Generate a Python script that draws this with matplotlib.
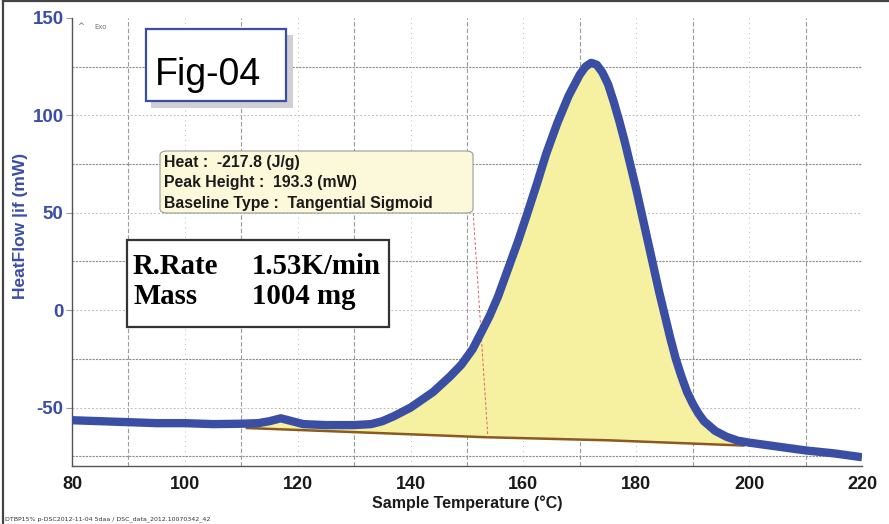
import numpy as np
import matplotlib
matplotlib.use("Agg")
import matplotlib.pyplot as plt
from matplotlib.patches import Rectangle, FancyBboxPatch
from matplotlib.lines import Line2D

plt.rcParams["axes.unicode_minus"] = False

# DSC trace
temp = [80, 85, 90, 95, 100, 105, 110, 113, 115, 117, 119, 121, 125, 130, 133,
        135, 137, 139, 140, 142, 144, 147, 149, 151, 152.6, 154, 155.5, 157,
        159, 160.5, 162.4, 164, 166, 168, 170, 171, 172, 173, 174, 175, 176,
        177, 178, 179, 180, 181, 182, 183, 184, 185, 186, 187, 188, 189, 190,
        191, 192, 194, 196, 198, 200, 205, 210, 215, 220]
heat_flow = [-56.5, -57, -57.5, -58, -58, -58.5, -58.3, -58, -57, -55.5, -57,
             -58.5, -59, -59, -58.5, -57, -54.5, -51.5, -50, -46, -42, -34,
             -28, -20, -11, -3, 7, 19, 35, 48, 65, 80, 96, 110, 121, 125, 127,
             126, 122, 116, 107, 97, 86, 74, 62, 49, 36, 23, 10, -2, -14, -25,
             -34, -42, -48, -53, -57, -62, -65, -67, -68, -70, -72, -73.5, -75.5]

# tangential sigmoid baseline
base_t = [111, 130, 153, 175, 199]
base_hf = [-60.5, -62.6, -65.2, -66.8, -69.5]

x_major = [90, 110, 130, 150, 170, 190, 210]
x_minor = [100, 120, 140, 160, 180, 200]
y_major = [125, 75, 25, -25, -75]
y_minor = [100, 50, 0, -50]
x_ticks = [80, 100, 120, 140, 160, 180, 200, 220]
y_ticks = [-50, 0, 50, 100, 150]

W, H = 889, 524
BLUE = "#3a4ea3"


def fx(px):
    return px / W


def fy(py):
    return 1 - py / H


fig = plt.figure(figsize=(W / 100, H / 100), dpi=100)
ax = fig.add_axes([fx(72), fy(466), fx(862) - fx(72), fy(18) - fy(466)])
ax.set_xlim(80, 220)
ax.set_ylim(-80, 150)

for v in x_major:
    ax.axvline(v, color="#9a9a9a", lw=0.8, ls=(0, (4, 2)), zorder=0)
for v in x_minor:
    ax.axvline(v, color="#b8b8b8", lw=0.7, ls=(0, (1, 4)), zorder=0)
for v in y_major:
    ax.axhline(v, color="#8c8c8c", lw=0.8, ls=(0, (2, 1)), zorder=0)
for v in y_minor:
    ax.axhline(v, color="#bcbcbc", lw=0.7, ls=(0, (2, 2)), zorder=0)

fine = np.linspace(base_t[0], base_t[-1], 600)
curve_f = np.interp(fine, temp, heat_flow)
base_f = np.interp(fine, base_t, base_hf)
ax.fill_between(fine, base_f, curve_f, color="#f5f1a0", lw=0, zorder=1)
ax.plot(base_t, base_hf, color="#8b5a1e", lw=1.8, zorder=2)
ax.plot([151.1, 153.7], [49.9, -65.1], color="#e06070", lw=0.7,
        ls=(0, (3, 2)), zorder=2)
ax.plot(temp, heat_flow, color=BLUE, lw=6, solid_capstyle="butt",
        solid_joinstyle="round", zorder=3)

ax.spines["top"].set_visible(False)
ax.spines["right"].set_visible(False)
for s in ("left", "bottom"):
    ax.spines[s].set_color("#555555")
    ax.spines[s].set_linewidth(1.0)
ax.set_xticks(x_ticks)
ax.set_yticks(y_ticks)
ax.tick_params(axis="x", length=0, pad=7, labelsize=13, labelcolor="#1a1a1a")
ax.tick_params(axis="y", length=4, width=0.8, color="#999999", pad=2,
               labelsize=13.5, labelcolor=BLUE)
for lab in ax.get_xticklabels() + ax.get_yticklabels():
    lab.set_fontweight("bold")
    lab.set_family("Liberation Sans")

fig.text(fx(467), fy(503), "Sample Temperature (\u00b0C)", ha="center",
         va="center", fontsize=11.5, fontweight="bold", family="Liberation Sans",
         color="#1a1a1a")
fig.text(fx(21), fy(226), "HeatFlow |if (mW)", ha="center", va="center",
         rotation=90, fontsize=12.5, fontweight="bold", family="Liberation Sans",
         color=BLUE)

# "^ Exo" marker
fig.text(fx(77), fy(29), "^", fontsize=6, color="#666666", va="baseline")
fig.text(fx(94), fy(29), "Exo", fontsize=5, color="#777777", va="baseline")

# Fig-04 box with shadow
fig.patches.append(Rectangle((fx(151), fy(108)), fx(142), fy(0) - fy(73),
                             transform=fig.transFigure, facecolor="#cfcfd4",
                             edgecolor="none", zorder=5))
fig.patches.append(Rectangle((fx(146), fy(101)), fx(140), fy(0) - fy(72),
                             transform=fig.transFigure, facecolor="white",
                             edgecolor=BLUE, lw=1.6, zorder=6))
fig.text(fx(155), fy(85), "Fig-04", fontsize=27, family="Liberation Sans",
         color="black", va="baseline", zorder=7)

# result tooltip
fig.patches.append(FancyBboxPatch((fx(160), fy(213)), fx(313), fy(0) - fy(62),
                                  boxstyle="round,pad=0,rounding_size=0.008",
                                  transform=fig.transFigure,
                                  facecolor="#fcf9da", edgecolor="#9a9a9a",
                                  lw=0.8, zorder=6))
tip_lines = ["Heat :  -217.8 (J/g)", "Peak Height :  193.3 (mW)",
             "Baseline Type :  Tangential Sigmoid"]
for i, line in enumerate(tip_lines):
    fig.text(fx(164), fy(167 + 20.5 * i), line, fontsize=11.4,
             fontweight="bold", family="Liberation Sans", color="#1a1a1a",
             va="baseline", zorder=7)

# sample info box
fig.patches.append(Rectangle((fx(127), fy(327)), fx(262), fy(0) - fy(87),
                             transform=fig.transFigure, facecolor="white",
                             edgecolor="#333333", lw=1.6, zorder=6))
info = [("R.Rate", "1.53K/min"), ("Mass", "1004 mg")]
for i, (k, v) in enumerate(info):
    yb = fy(274 + 30 * i)
    fig.text(fx(133), yb, k, fontsize=20.8, fontweight="bold",
             family="Liberation Serif", va="baseline", zorder=7)
    fig.text(fx(252), yb, v, fontsize=20.8, fontweight="bold",
             family="Liberation Serif", va="baseline", zorder=7)

fig.text(fx(5), fy(520), "DTBP15% p-DSC2012-11-04 5daa / DSC_data_2012.10070342_42",
         fontsize=4.5, color="#333333", va="baseline")

# outer frame
fig.lines.append(Line2D([fx(3), fx(3)], [0, fy(1)], transform=fig.transFigure,
                        color="#444444", lw=1.6))
fig.lines.append(Line2D([fx(3), 1], [fy(1), fy(1)], transform=fig.transFigure,
                        color="#444444", lw=1.6))

fig.savefig("out.png", dpi=100)
